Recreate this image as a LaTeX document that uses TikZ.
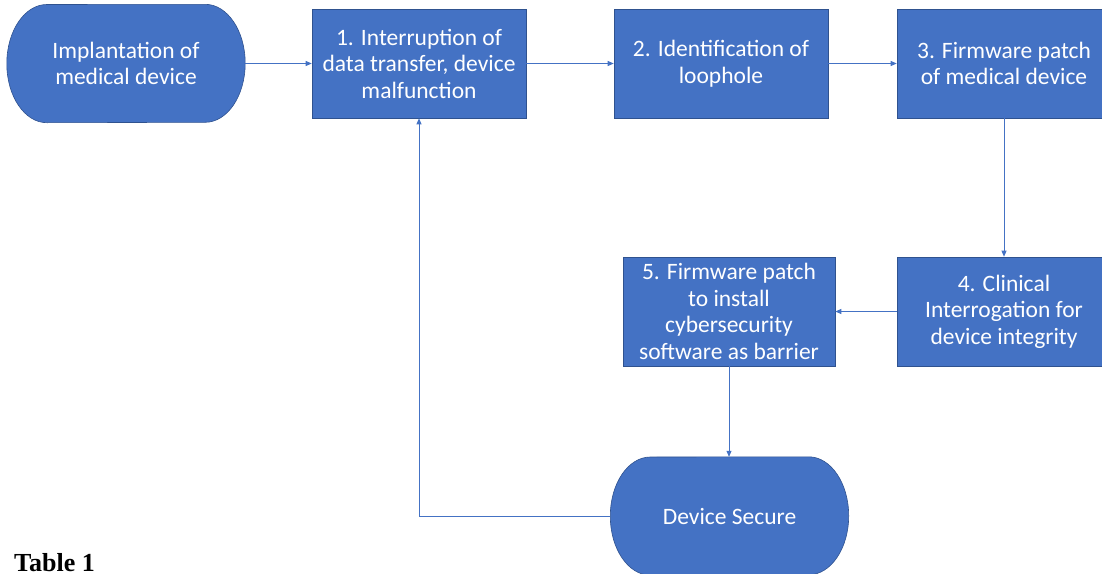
\documentclass[tikz,border=0pt]{standalone}
\usepackage{fontspec}
\setmainfont{Carlito}
\newfontfamily\captionserif{Liberation Serif}
\usetikzlibrary{arrows.meta,backgrounds}
\definecolor{boxblue}{HTML}{4472C4}
\definecolor{boxedge}{HTML}{2F528F}

% Terminator outline (flat top and bottom, elliptical ends) behind a named node;
% #2 is half the node height
\newcommand\terminatorshape[2]{%
  \begin{scope}[on background layer]
    \filldraw[fill=boxblue, draw=boxedge, line width=0.6pt, line join=round]
      (#1.west)
      arc[start angle=180, end angle=90, x radius=40pt, y radius=#2]
      -- ([xshift=-40pt]#1.north east)
      arc[start angle=90, end angle=-90, x radius=40pt, y radius=#2]
      -- ([xshift=40pt]#1.south west)
      arc[start angle=270, end angle=180, x radius=40pt, y radius=#2]
      -- cycle;
  \end{scope}}

\begin{document}
\begin{tikzpicture}[x=1pt, y=-1pt,
  boxtext/.style={text=white, align=center, inner sep=0pt,
    font=\fontsize{23.5}{26.5}\selectfont},
  stepbox/.style={boxtext, rectangle, fill=boxblue, draw=boxedge,
    line width=0.6pt, minimum width=214pt, minimum height=109pt},
  termbox/.style={boxtext, rectangle, minimum width=238pt, minimum height=118pt},
  flow/.style={draw=boxblue, line width=0.8pt,
    -{Triangle[length=6pt, width=5pt]}}
]
\useasboundingbox (0,0) rectangle (1102,573);

% start and end terminators
\node[termbox] (implant) at (126,63.5) {Implantation of\\medical device};
\terminatorshape{implant}{59pt}
\node[termbox] (secure) at (729.5,516) {Device Secure};
\terminatorshape{secure}{59pt}

% process steps
\node[stepbox] (interrupt) at (419,63.5)  {1. Interruption of\\data transfer, device\\malfunction};
\node[stepbox] (loophole)  at (721,63.5)  {2. Identification of\\loophole};
\node[stepbox] (patch)     at (1004,63.5) {3. Firmware patch\\of medical device};
\node[stepbox] (clinical)  at (1004,311.5) {4. Clinical\\Interrogation for\\device integrity};
\node[stepbox, minimum width=212pt] (barrier) at (729,311.5)
  {5. Firmware patch\\to install\\cybersecurity\\software as barrier};

% connectors
\draw[flow] (implant) -- (interrupt);
\draw[flow] (interrupt) -- (loophole);
\draw[flow] (loophole) -- (patch);
\draw[flow] (patch.south) -- (patch.south |- clinical.north);
\draw[flow] (clinical) -- (barrier);
\draw[flow] (barrier.south) -- (barrier.south |- secure.north);
\draw[flow] (secure.west) -| (interrupt.south);

% caption
\node[anchor=base west, inner sep=0pt,
  font=\captionserif\bfseries\fontsize{26}{30}\selectfont] (caption) at (14,571) {Table 1};
\end{tikzpicture}
\end{document}
